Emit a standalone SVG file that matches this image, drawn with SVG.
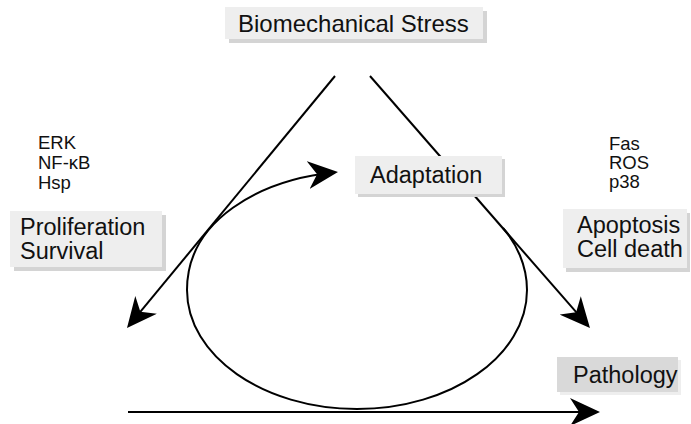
<svg xmlns="http://www.w3.org/2000/svg" width="691" height="424" viewBox="0 0 691 424">
  <style>
    .box { fill: #eeeeee; }
    .shadow { fill: #d4d4d4; }
    .big { font-family: "Liberation Sans", Arial, sans-serif; font-size: 23.5px; fill: #111111; }
    .title { font-size: 24px; }
    .small { font-family: "Liberation Sans", Arial, sans-serif; font-size: 18.5px; fill: #111111; }
    .conn { fill: none; stroke: #000000; stroke-width: 2; }
  </style>
  <defs>
    <marker id="arrow" markerUnits="userSpaceOnUse" viewBox="0 0 30 28" refX="27" refY="14" markerWidth="30" markerHeight="28" orient="auto">
      <path d="M0,0 L30,14 L0,28 L9,14 Z" fill="#000000"/>
    </marker>
  </defs>
  <rect x="0" y="0" width="691" height="424" fill="#ffffff"/>

  <g id="connectors">
    <path class="conn" d="M335,76 L128.9,325.7" marker-end="url(#arrow)"/>
    <path class="conn" d="M370,76 L588,325.7" marker-end="url(#arrow)"/>
    <path class="conn" d="M128,412 L597,412" marker-end="url(#arrow)"/>
    <path class="conn" d="M503,228 C516,243 527,265 527,290 C527,355.7 450.8,409 357,409 C263.2,409 187,355.7 187,290 C187,220 260,180 335,172.3" marker-end="url(#arrow)"/>
  </g>

  <g id="biomechanical-stress">
    <rect class="shadow" x="229" y="11" width="258" height="32"/>
    <rect class="box" x="225" y="7" width="258" height="32"/>
    <text class="big title" x="238" y="32">Biomechanical Stress</text>
  </g>

  <g id="adaptation">
    <rect class="shadow" x="358" y="159" width="147" height="38"/>
    <rect class="box" x="355" y="156" width="147" height="38"/>
    <text class="big" x="370" y="183">Adaptation</text>
  </g>

  <g id="proliferation-survival">
    <rect class="shadow" x="14" y="215" width="152" height="56"/>
    <rect class="box" x="10" y="211" width="152" height="56"/>
    <text class="big" x="20" y="235">Proliferation</text>
    <text class="big" x="20" y="259">Survival</text>
  </g>

  <g id="apoptosis-cell-death">
    <rect class="shadow" x="566" y="213" width="124" height="59"/>
    <rect class="box" x="563" y="209" width="124" height="59"/>
    <text class="big" x="577" y="233">Apoptosis</text>
    <text class="big" x="577" y="257">Cell death</text>
  </g>

  <g id="pathology">
    <rect x="560" y="360" width="121" height="35" fill="#eeeeee"/>
    <rect x="557" y="357" width="121" height="35" fill="#d9d9d9"/>
    <text class="big" x="573" y="383">Pathology</text>
  </g>

  <g id="survival-signals">
    <text class="small" x="38" y="149">ERK</text>
    <text class="small" x="38" y="169">NF-κB</text>
    <text class="small" x="38" y="189">Hsp</text>
  </g>

  <g id="death-signals">
    <text class="small" x="609" y="150">Fas</text>
    <text class="small" x="609" y="169">ROS</text>
    <text class="small" x="609" y="188">p38</text>
  </g>
</svg>
